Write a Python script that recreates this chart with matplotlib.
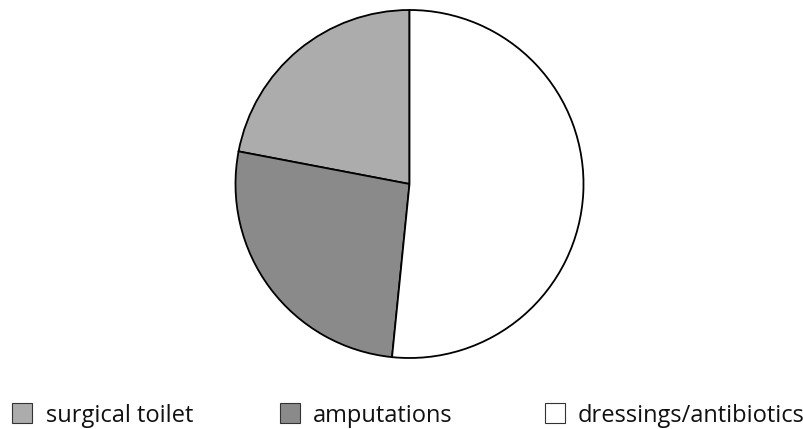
import matplotlib.pyplot as plt
from matplotlib.patches import Rectangle

labels = ['surgical toilet', 'amputations', 'dressings/antibiotics']
shares = [22, 26.4, 51.6]
fills = ['#acacac', '#8a8a8a', '#ffffff']

plt.rcParams['font.family'] = ['Open Sans', 'DejaVu Sans']

W, H = 804, 429
fig = plt.figure(figsize=(W / 100, H / 100), dpi=100)

# pie sits in a square axes: centre (409.5, 184) px from top, radius 174 px
cx, cy, r = 409.5, 184, 174
ax = fig.add_axes([(cx - r) / W, (H - cy - r) / H, 2 * r / W, 2 * r / H])
wedges, _ = ax.pie(shares, colors=fills, startangle=90, counterclock=True,
                   wedgeprops=dict(edgecolor='black', linewidth=1.3))
for w in wedges:
    w.set_clip_on(False)
ax.set_xlim(-1, 1)
ax.set_ylim(-1, 1)
ax.set_aspect('equal')
ax.axis('off')

# legend row along the bottom
box_x = [12, 280, 545]
text_x = [46, 313, 578]
box_top, box_size, baseline = 403, 20, 422
for bx, tx, lab, col in zip(box_x, text_x, labels, fills):
    fig.patches.append(Rectangle((bx / W, (H - box_top - box_size) / H),
                                 box_size / W, box_size / H,
                                 transform=fig.transFigure, facecolor=col,
                                 edgecolor='#333333', linewidth=0.8))
    fig.text(tx / W, (H - baseline) / H, lab, fontsize=17, color='#111111',
             ha='left', va='baseline')

fig.savefig('out.png', dpi=100, facecolor='white')
